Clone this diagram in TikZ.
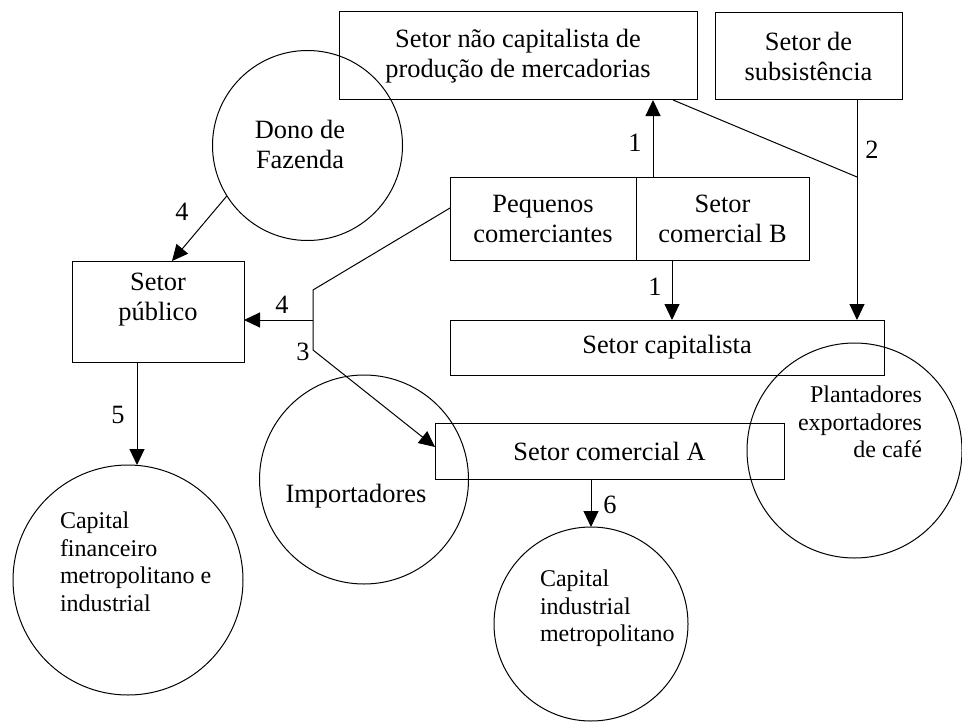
\documentclass[tikz,border=0pt]{standalone}
\usepackage{fontspec}
\setmainfont{Liberation Serif}
\usetikzlibrary{arrows.meta}

\begin{document}
\begin{tikzpicture}[x=0.5pt,y=-0.5pt,inner sep=0pt,outer sep=0pt,line width=0.5pt,
sector/.style={draw,rectangle,align=center,font=\fontsize{13.2}{15}\selectfont},
agent/.style={draw,circle,minimum size=#1},
agenttext/.style={align=left,font=\fontsize{12}{13.75}\selectfont},
flow/.style={-{Triangle[length=8pt,width=7.5pt]}},
num/.style={font=\fontsize{13.2}{15}\selectfont}]

\useasboundingbox (0,0) rectangle (962,722);

\draw (518,56) node[sector,minimum width=179pt,minimum height=44pt] (nocap) {Setor não capitalista de\\produção de mercadorias};
\draw (808.5,56.5) node[sector,minimum width=93.5pt,minimum height=43.5pt] (subs) {Setor de\\subsistência};
\draw (543,218.5) node[sector,minimum width=93pt,minimum height=41.5pt] (peq) {Pequenos\\comerciantes};
\draw (722.5,218.5) node[sector,minimum width=86.5pt,minimum height=41.5pt] (comB) {Setor\\comercial B};
\draw (667,347.5) node[sector,minimum width=217pt,minimum height=27.5pt] (cap) {Setor capitalista};
\draw (609.5,451) node[sector,minimum width=174.5pt,minimum height=28pt] (comA) {Setor comercial A};
\draw (158,311.5) node[sector,minimum width=86pt,minimum height=50.5pt] (publico) {Setor\\público\\~};

\draw (307.5,145.5) node[agent=95pt] (dono) {};
\node[agenttext,align=center,font=\fontsize{13.2}{15}\selectfont,anchor=north] (donotxt) at (300,120) {Dono de\\Fazenda};
\draw (128,580) node[agent=115pt] (capfin) {};
\node[agenttext,anchor=north west] (capfintxt) at (60,512) {Capital\\financeiro\\metropolitano e\\industrial};
\draw (364,479.5) node[agent=104.5pt] (import) {};
\node[agenttext,font=\fontsize{13.2}{15}\selectfont] (importtxt) at (356,496) {Importadores};
\draw (591,624) node[agent=97pt] (capind) {};
\node[agenttext,anchor=north west] (capindtxt) at (540,570) {Capital\\industrial\\metropolitano};
\draw (854.5,450.5) node[agent=107.5pt] (plant) {};
\node[agenttext,align=right,anchor=north east] (planttxt) at (922,386) {Plantadores\\exportadores\\de café};

\path ([xshift=8.5pt]comB.north west) coordinate (u1);
\draw[flow] (u1) -- (u1 |- nocap.south);
\path ([xshift=18pt]comB.south west) coordinate (d1);
\draw[flow] (d1) -- (d1 |- cap.north);

\path ([xshift=24.25pt]subs.south) coordinate (s2);
\coordinate (j2) at (s2 |- comB.north);
\draw[flow] (s2) -- (j2) -- (j2 |- cap.north);
\draw ([xshift=-12pt]nocap.south east) -- (j2);

\draw[flow] (dono.212) -- ([xshift=7pt]publico.north);

\coordinate (k1) at (313,290);
\coordinate (k2) at (313,350);
\coordinate (k3) at (313,320);
\draw ([yshift=5.25pt]peq.west) -- (k1) -- (k2);
\draw[flow] (k2) -- ([yshift=2pt]comA.west);
\draw[flow] (k3) -- (k3 -| publico.east);

\path ([xshift=-10.5pt]publico.south) coordinate (p5);
\draw[flow] (p5) -- (p5 |- capfin.north);
\draw[flow] (comA.south -| capind.north) -- (capind.north);

\node[num] (n1up) at (635,143) {1};
\node[num] (n1down) at (655,287) {1};
\node[num] (n2) at (872,150) {2};
\node[num] (n4dono) at (182,212) {4};
\node[num] (n4peq) at (282,305) {4};
\node[num] (n3) at (303,352) {3};
\node[num] (n5) at (118,415) {5};
\node[num] (n6) at (610,505) {6};
\end{tikzpicture}
\end{document}
